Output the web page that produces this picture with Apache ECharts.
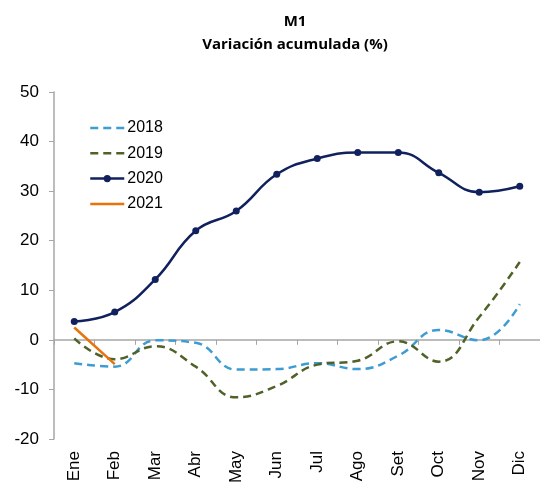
<!DOCTYPE html>
<html><head><meta charset="utf-8">
<script src="https://cdn.jsdelivr.net/npm/echarts@6/dist/echarts.min.js"></script>
<style>html,body{margin:0;padding:0;background:#fff}#c{width:540px;height:487px}</style>
</head><body><div id="c"></div>
<script>
const categories = ['Ene','Feb','Mar','Abr','May','Jun','Jul','Ago','Set','Oct','Nov','Dic'];
const s2018 = [-4.7,-5.4,-0.1,-0.6,-6.0,-5.9,-4.7,-5.9,-3.2,2.0,-0.1,7.2];
const s2019 = [0.3,-3.9,-1.3,-5.4,-11.6,-9.3,-5.0,-4.2,-0.3,-4.4,4.6,15.7];
const s2020 = [3.7,5.6,12.2,22.0,26.0,33.4,36.6,37.8,37.8,33.7,29.8,31.0];
const s2021 = [2.5,-4.9];
const yTicks = [-20,-10,0,10,20,30,40,50];

const chart = echarts.init(document.getElementById('c'));
const font = 'Liberation Sans, Arial, sans-serif';
chart.setOption({
  animation:false,
  title:{
    text:'M1\nVariación acumulada (%)',
    left:290, top:5, textAlign:'center',
    textStyle:{fontFamily:'Open Sans, Liberation Sans, sans-serif',fontWeight:'bold',fontSize:15,lineHeight:23,color:'#000'}
  },
  legend:{
    orient:'vertical', left:84, top:115, itemWidth:34, itemHeight:9, itemGap:9.3,
    textStyle:{fontFamily:font,fontSize:16,color:'#000',padding:[0,0,0,-2]},
    lineStyle:{width:2.5},
    data:[
      {name:'2018',itemStyle:{opacity:0}},
      {name:'2019',itemStyle:{opacity:0}},
      {name:'2020'},
      {name:'2021',itemStyle:{opacity:0}}
    ]
  },
  grid:{left:54,right:0,top:92,bottom:48,containLabel:false},
  xAxis:[{
    type:'category', data:categories, boundaryGap:true,
    axisLine:{onZero:true,lineStyle:{color:'#a6a6a6',width:1.5}},
    axisTick:{show:true,length:5,lineStyle:{color:'#a6a6a6'}},
    axisLabel:{show:false}
  },{
    type:'category', data:categories, position:'bottom', boundaryGap:true,
    axisLine:{show:false,onZero:false}, axisTick:{show:false},
    axisLabel:{rotate:90,margin:12,fontFamily:font,fontSize:17,color:'#000'}
  }],
  yAxis:{
    type:'value', min:yTicks[0], max:yTicks[yTicks.length-1], interval:10,
    axisLine:{show:true,lineStyle:{color:'#a6a6a6',width:1.5}},
    axisTick:{show:true,length:5,lineStyle:{color:'#a6a6a6'}},
    splitLine:{show:false},
    axisLabel:{margin:15,fontFamily:font,fontSize:17,color:'#000'}
  },
  series:[
    {name:'2018',type:'line',data:s2018,smooth:0.45,symbol:'none',
     lineStyle:{color:'#3d9cd2',width:2.5,type:[8,5]},itemStyle:{color:'#3d9cd2'}},
    {name:'2019',type:'line',data:s2019,smooth:0.45,symbol:'none',
     lineStyle:{color:'#4f6228',width:2.5,type:[8,5]},itemStyle:{color:'#4f6228'}},
    {name:'2020',type:'line',data:s2020,smooth:0.45,symbol:'circle',symbolSize:7,
     lineStyle:{color:'#10215e',width:2.5},itemStyle:{color:'#10215e'}},
    {name:'2021',type:'line',data:s2021,smooth:false,symbol:'none',
     lineStyle:{color:'#e8720c',width:2.5},itemStyle:{color:'#e8720c'}}
  ]
});
</script></body></html>
